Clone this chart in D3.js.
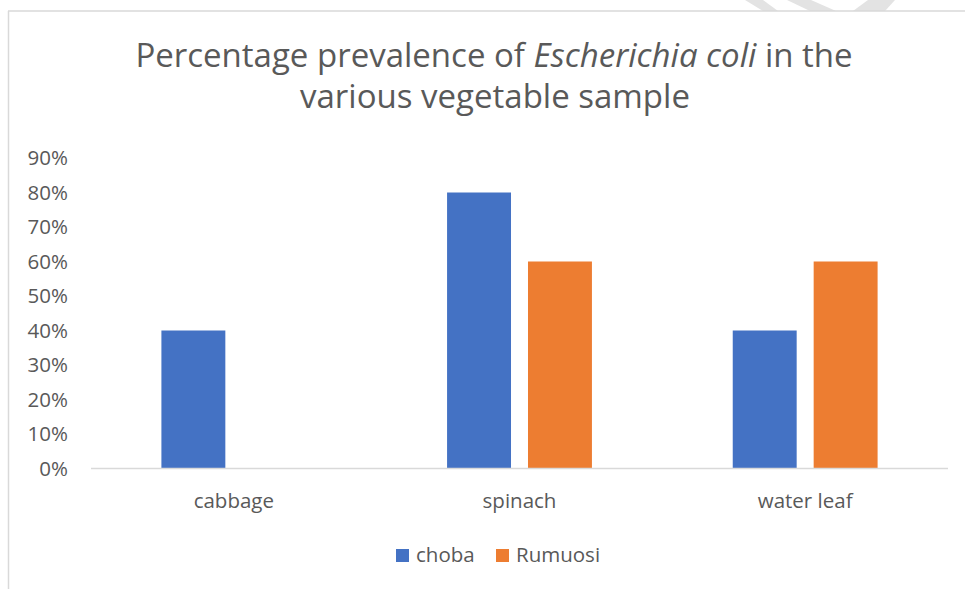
<!DOCTYPE html>
<html>
<head>
<meta charset="utf-8">
<script src="https://cdn.jsdelivr.net/npm/d3@7"></script>
<style>
  html, body { margin: 0; padding: 0; background: #fff; }
  svg { display: block; }
  text { font-family: "Open Sans", sans-serif; fill: #595959; }
</style>
</head>
<body>
<script>
const categories = ["cabbage", "spinach", "water leaf"];
const seriesNames = ["choba", "Rumuosi"];
const chobaValues = [0.40, 0.80, 0.40];
const rumuosiValues = [0.00, 0.60, 0.60];
const tickValues = [0, 0.1, 0.2, 0.3, 0.4, 0.5, 0.6, 0.7, 0.8, 0.9];
const colors = ["#4472C4", "#ED7D31"];

const W = 965, H = 589;
const svg = d3.select("body").append("svg").attr("width", W).attr("height", H);

// watermark stripes (background decoration)
const wm = svg.append("g").attr("fill", "#e3e3e3");
wm.append("polygon").attr("points", "745,0 763,0 778,11 763,11");
wm.append("polygon").attr("points", "787,0 811,0 836,11 810,11");
wm.append("polygon").attr("points", "868,0 895,0 885,11 853,11");

// chart border
svg.append("line").attr("x1", 8).attr("x2", W).attr("y1", 11).attr("y2", 11)
  .attr("stroke", "#d9d9d9").attr("stroke-width", 1.5);
svg.append("line").attr("x1", 8.5).attr("x2", 8.5).attr("y1", 11).attr("y2", H)
  .attr("stroke", "#d9d9d9").attr("stroke-width", 1.5);

const plot = { left: 91, right: 948, top: 158, bottom: 468.5 };

const y = d3.scaleLinear().domain([0, 0.9]).range([plot.bottom, plot.top]);
const x0 = d3.scaleBand().domain(categories).range([plot.left, plot.right]).padding(0);
const x1 = d3.scaleBand().domain(seriesNames).range([0, x0.bandwidth()])
  .paddingInner(0.21).paddingOuter(0.87);

const data = categories.map((c, i) => ({
  cat: c,
  vals: [
    { s: seriesNames[0], v: chobaValues[i] },
    { s: seriesNames[1], v: rumuosiValues[i] }
  ]
}));

// bars
const groups = svg.append("g").selectAll("g").data(data).join("g")
  .attr("transform", d => `translate(${x0(d.cat)},0)`);
groups.selectAll("rect").data(d => d.vals).join("rect")
  .attr("x", d => x1(d.s))
  .attr("width", x1.bandwidth())
  .attr("y", d => y(d.v))
  .attr("height", d => y(0) - y(d.v))
  .attr("fill", (d, i) => colors[i]);

// x axis line
svg.append("line").attr("x1", plot.left).attr("x2", plot.right)
  .attr("y1", y(0)).attr("y2", y(0))
  .attr("stroke", "#d9d9d9").attr("stroke-width", 1.5);

// y axis labels
const yAxis = d3.axisLeft(y).tickValues(tickValues).tickFormat(d3.format(".0%")).tickSize(0).tickPadding(0);
const yg = svg.append("g").attr("transform", "translate(68,0)").call(yAxis);
yg.select(".domain").remove();
yg.selectAll("text").attr("font-size", 20.5).attr("fill", "#595959")
  .attr("font-family", "Open Sans, sans-serif");

// x axis labels
const xAxis = d3.axisBottom(x0).tickSize(0).tickPadding(0);
const xg = svg.append("g").attr("transform", `translate(0,${y(0)})`).call(xAxis);
xg.select(".domain").remove();
xg.selectAll("text").attr("font-size", 20.5).attr("fill", "#595959")
  .attr("font-family", "Open Sans, sans-serif")
  .attr("dy", null).attr("y", 39.5);

// title
const title = svg.append("text").attr("text-anchor", "middle").attr("font-size", 33);
title.append("tspan").attr("x", 494).attr("y", 67).text("Percentage prevalence of ");
title.append("tspan").attr("font-style", "italic").text("Escherichia coli");
title.append("tspan").text(" in the");
svg.append("text").attr("text-anchor", "middle").attr("font-size", 33)
  .attr("x", 495).attr("y", 108).text("various vegetable sample");

// legend
const legendX = [396, 496];
const lg = svg.append("g").selectAll("g").data(seriesNames).join("g")
  .attr("transform", (d, i) => `translate(${legendX[i]},549)`);
lg.append("rect").attr("width", 13).attr("height", 13).attr("fill", (d, i) => colors[i]);
lg.append("text").attr("x", 20).attr("y", 13).attr("font-size", 20.5).text(d => d);
</script>
</body>
</html>
